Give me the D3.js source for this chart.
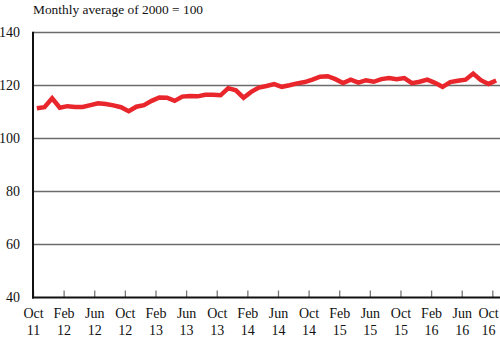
<!DOCTYPE html>
<html>
<head>
<meta charset="utf-8">
<script src="https://cdn.jsdelivr.net/npm/d3@7"></script>
<style>
  html, body { margin: 0; padding: 0; background: #fff; }
  svg { display: block; }
  svg text { font-family: "Liberation Serif", "Times New Roman", serif; }
</style>
</head>
<body>
<svg id="chart" width="500" height="338"></svg>
<script>
// Monthly index, Oct 2011 – Oct 2016 (monthly average of 2000 = 100)
const values = [
  111.4, 111.8, 115.2, 111.6, 112.2, 111.9, 111.9, 112.6, 113.3, 113.0,
  112.5, 111.8, 110.3, 112.0, 112.6, 114.2, 115.5, 115.4, 114.2, 115.8,
  116.0, 115.9, 116.5, 116.5, 116.3, 119.0, 118.2, 115.4, 117.6, 119.2,
  119.8, 120.5, 119.5, 120.1, 120.8, 121.3, 122.2, 123.3, 123.5, 122.4,
  120.9, 122.2, 121.1, 122.0, 121.4, 122.4, 122.8, 122.4, 122.8, 120.9,
  121.4, 122.2, 121.0, 119.5, 121.3, 121.8, 122.2, 124.5, 122.0, 120.6,
  121.9
];

// X tick labels every four months (month index from Oct 2011)
const tickMonths = [0, 4, 8, 12, 16, 20, 24, 28, 32, 36, 40, 44, 48, 52, 56, 60];
const tickMonthNames = ["Oct", "Feb", "Jun", "Oct", "Feb", "Jun", "Oct", "Feb",
                        "Jun", "Oct", "Feb", "Jun", "Oct", "Feb", "Jun", "Oct"];
const tickYears = ["11", "12", "12", "12", "13", "13", "13", "14",
                   "14", "14", "15", "15", "15", "16", "16", "16"];

const yTicks = [40, 60, 80, 100, 120, 140];
const unitLabel = "Monthly average of 2000 = 100";

const svg = d3.select("#chart");
const plotLeft = 33, plotRight = 500, plotTop = 32.5, plotBottom = 297.5;
const fontFamily = "'Liberation Serif', 'Times New Roman', serif";

// Month scale: each month occupies one unit; points sit mid-month
const x = d3.scaleLinear().domain([0, values.length]).range([plotLeft, plotRight]);
const y = d3.scaleLinear().domain([40, 140]).range([plotBottom, plotTop]);

// Horizontal gridlines
svg.append("g")
  .selectAll("line")
  .data(yTicks.filter(d => d > 40))
  .join("line")
  .attr("x1", plotLeft).attr("x2", plotRight)
  .attr("y1", d => y(d)).attr("y2", d => y(d))
  .attr("stroke", "#6b6b6b")
  .attr("stroke-width", 1.5);

// Y axis labels
const yAxis = d3.axisLeft(y).tickValues(yTicks).tickSize(0).tickPadding(13);
svg.append("g")
  .attr("transform", `translate(${plotLeft},0)`)
  .call(yAxis)
  .call(g => g.select(".domain").remove())
  .call(g => g.selectAll("text")
    .attr("font-family", fontFamily)
    .attr("font-size", 14)
    .attr("fill", "#111"));

// X axis: inward ticks at month starts, two-line labels
const xAxis = d3.axisBottom(x)
  .tickValues(tickMonths)
  .tickSize(-7)
  .tickFormat(() => "");
const gx = svg.append("g")
  .attr("transform", `translate(0,${plotBottom})`)
  .call(xAxis);
gx.select(".domain").remove();
gx.selectAll(".tick line").attr("stroke", "#777").attr("stroke-width", 1.3);
gx.selectAll(".tick").each(function(d, i) {
  // keep the last label inside the frame
  const dx = Math.min(0, (plotRight - 1) - (x(d) + 11));
  const t = d3.select(this).append("text")
    .attr("text-anchor", "middle")
    .attr("font-family", fontFamily)
    .attr("font-size", 14)
    .attr("fill", "#111");
  t.append("tspan").attr("x", dx).attr("y", 20).text(tickMonthNames[i]);
  t.append("tspan").attr("x", dx).attr("y", 37).text(tickYears[i]);
});

// Axis lines
svg.append("line")
  .attr("x1", plotLeft).attr("x2", plotLeft)
  .attr("y1", y(140) - 0.75).attr("y2", plotBottom + 1)
  .attr("stroke", "#111").attr("stroke-width", 2);
svg.append("line")
  .attr("x1", plotLeft - 1).attr("x2", plotRight)
  .attr("y1", plotBottom).attr("y2", plotBottom)
  .attr("stroke", "#111").attr("stroke-width", 2);

// Series line
const line = d3.line()
  .x((d, i) => x(i + 0.5))
  .y(d => y(d));
svg.append("path")
  .datum(values)
  .attr("d", line)
  .attr("fill", "none")
  .attr("stroke", "#e8262b")
  .attr("stroke-width", 4.5)
  .attr("stroke-linejoin", "miter")
  .attr("stroke-linecap", "butt");

// Unit caption
svg.append("text")
  .attr("x", 33).attr("y", 14)
  .attr("font-family", fontFamily)
  .attr("font-size", 13.4)
  .attr("fill", "#111")
  .text(unitLabel);
</script>
</body>
</html>
